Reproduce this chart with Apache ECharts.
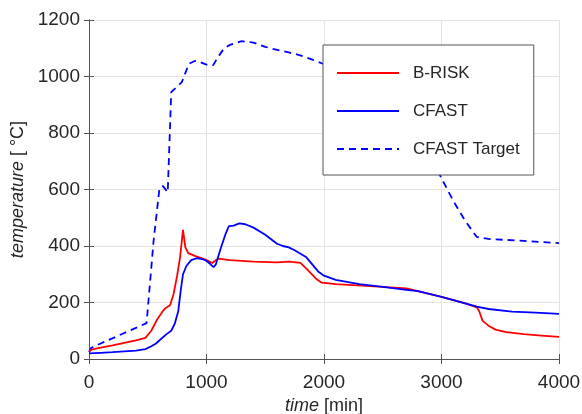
<!DOCTYPE html>
<html><head><meta charset="utf-8">
<script src="https://cdn.jsdelivr.net/npm/echarts@6/dist/echarts.min.js"></script>
<style>html,body{margin:0;padding:0;background:#fff}#c{width:582px;height:414px}</style>
</head><body><div id="c"></div>
<script>
const seriesNames = ['B-RISK', 'CFAST', 'CFAST Target'];
const xTicks = [0, 1000, 2000, 3000, 4000];
const yTicks = [0, 200, 400, 600, 800, 1000, 1200];
const brisk = [[0,25],[20,33],[100,40],[200,48],[300,57],[400,66],[480,75],[530,100],[580,140],[620,165],[650,180],[690,190],[720,230],[750,295],[775,360],[800,457],[820,395],[845,375],[900,365],[950,358],[1000,350],[1050,340],[1080,350],[1100,355],[1200,350],[1400,345],[1600,342],[1700,345],[1800,340],[1850,320],[1930,285],[1980,270],[2100,265],[2500,255],[2700,250],[2800,240],[3000,220],[3200,198],[3300,183],[3320,170],[3350,135],[3400,118],[3460,104],[3550,95],[3700,88],[3850,83],[4000,78]];
const cfast = [[0,20],[100,22],[200,24],[300,27],[400,30],[480,35],[530,45],[570,55],[610,70],[660,88],[700,100],[730,125],[760,170],[780,240],[800,300],[830,330],[870,350],[920,357],[970,353],[1000,347],[1030,337],[1060,325],[1080,335],[1120,390],[1160,440],[1190,470],[1230,472],[1280,480],[1330,477],[1400,465],[1500,440],[1600,408],[1650,400],[1700,395],[1750,385],[1850,360],[1950,310],[2000,295],[2100,280],[2300,265],[2500,255],[2700,245],[2800,240],[3000,220],[3200,197],[3300,185],[3400,177],[3600,168],[3800,164],[4000,160]];
const cfastTarget = [[0,25],[20,40],[490,127],[505,200],[550,420],[600,605],[630,612],[670,590],[700,945],[790,980],[850,1045],[900,1055],[950,1050],[1000,1042],[1056,1040],[1100,1070],[1150,1100],[1200,1112],[1300,1125],[1340,1123],[1400,1120],[1500,1105],[1564,1098],[1700,1085],[1790,1076],[1900,1060],[1980,1047],[2200,1010],[2500,950],[2800,800],[3000,640],[3100,560],[3200,490],[3300,432],[3400,425],[3700,418],[4000,410]];

const FONT = 'Liberation Sans, Arial, sans-serif';
const TXT = '#262626';
const chart = echarts.init(document.getElementById('c'), null, {renderer:'canvas'});
const axisLine = {show:true, lineStyle:{color:'#555', width:1}};
chart.setOption({
  animation:false,
  backgroundColor:'#fff',
  textStyle:{fontFamily:FONT},
  grid:{left:89, top:20, right:23, bottom:55, containLabel:false, outerBoundsMode:'none'},
  legend:{
    data:seriesNames, orient:'vertical', left:323, top:45,
    backgroundColor:'#fff', borderColor:'#555', borderWidth:1,
    padding:[18,14,16,13], itemWidth:62, itemHeight:20, itemGap:18,
    itemStyle:{opacity:0},
    textStyle:{fontFamily:FONT, fontSize:17, color:TXT, lineHeight:20, padding:[0,0,0,9]}
  },
  xAxis:[{
    type:'value', min:0, max:4000, interval:1000, position:'bottom',
    name:'{i|time} [min]', nameLocation:'middle', nameGap:38,
    nameTextStyle:{fontFamily:FONT, fontSize:18, color:TXT, rich:{i:{fontStyle:'italic', fontFamily:FONT, fontSize:18, color:TXT}}},
    axisLine:axisLine, axisTick:{show:true, inside:true, length:5, lineStyle:{color:'#555'}},
    axisLabel:{fontFamily:FONT, fontSize:19, color:TXT, margin:14, formatter:v=>xTicks.includes(v)?String(v):''},
    splitLine:{show:true, lineStyle:{color:'#e3e3e3', width:1}}
  },{
    type:'value', min:0, max:4000, interval:1000, position:'top',
    axisLine:axisLine, axisTick:{show:true, inside:true, length:5, lineStyle:{color:'#555'}},
    axisLabel:{show:false}, splitLine:{show:false}
  }],
  yAxis:[{
    type:'value', min:0, max:1200, interval:200, position:'left',
    name:'{i|temperature} [ °C]', nameLocation:'middle', nameGap:61, nameRotate:90,
    nameTextStyle:{fontFamily:FONT, fontSize:18, color:TXT, rich:{i:{fontStyle:'italic', fontFamily:FONT, fontSize:18, color:TXT}}},
    axisLine:axisLine, axisTick:{show:true, inside:true, length:5, lineStyle:{color:'#555'}},
    axisLabel:{fontFamily:FONT, fontSize:19, color:TXT, margin:9, formatter:v=>yTicks.includes(v)?String(v):''},
    splitLine:{show:true, lineStyle:{color:'#e3e3e3', width:1}}
  },{
    type:'value', min:0, max:1200, interval:200, position:'right',
    axisLine:axisLine, axisTick:{show:true, inside:true, length:5, lineStyle:{color:'#555'}},
    axisLabel:{show:false}, splitLine:{show:false}
  }],
  series:[
    {name:seriesNames[0], type:'line', data:brisk, showSymbol:false, symbol:'none', color:'#ff0000', lineStyle:{color:'#ff0000', width:1.8}, z:3},
    {name:seriesNames[1], type:'line', data:cfast, showSymbol:false, symbol:'none', color:'#0000ff', lineStyle:{color:'#0000ff', width:1.8}, z:3},
    {name:seriesNames[2], type:'line', data:cfastTarget, showSymbol:false, symbol:'none', color:'#0000ff', lineStyle:{color:'#0000ff', width:1.8, type:[7,5]}, z:2}
  ]
});
</script></body></html>
